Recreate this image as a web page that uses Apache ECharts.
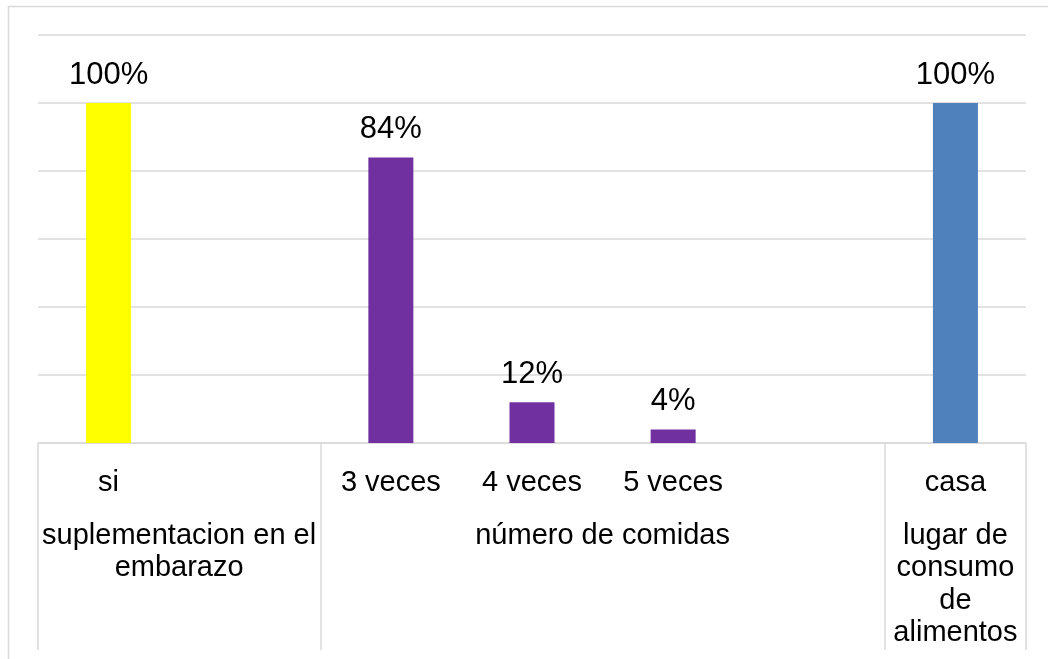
<!DOCTYPE html>
<html>
<head>
<meta charset="utf-8">
<script src="https://cdn.jsdelivr.net/npm/echarts@6/dist/echarts.min.js"></script>
<style>
  html, body { margin: 0; padding: 0; background: #fff; }
  #chart { width: 1048px; height: 659px; }
</style>
</head>
<body>
<div id="chart"></div>
<script>
// Inner categories (blank slots separate the groups)
const categories = ['si', '', '3 veces', '4 veces', '5 veces', '', 'casa'];
// Percent values per category
const values = [100, null, 84, 12, 4, null, 100];
// Outer group names and how many categories each spans
const groupNames = ['suplementacion en el\nembarazo', 'número de comidas', 'lugar de\nconsumo\nde\nalimentos'];
const groupSpans = [2, 4, 1];
// Y axis scale (percent)
const yMax = 120;
const yStep = 20;

const groupColors = ['#FFFF00', '#7030A0', '#4F81BD'];
const FONT = '"Liberation Sans", Arial, sans-serif';

// Group boundaries and centres, in category units
const bounds = [0];
groupSpans.forEach(s => bounds.push(bounds[bounds.length - 1] + s));
const centres = groupSpans.map((s, i) => bounds[i] + s / 2);

function groupOf(idx) {
  for (let g = 0; g < groupSpans.length; g++) {
    if (idx >= bounds[g] && idx < bounds[g + 1]) return g;
  }
  return 0;
}

const barData = values.map((v, i) => ({
  value: v,
  itemStyle: { color: groupColors[groupOf(i)] }
}));

const chart = echarts.init(document.getElementById('chart'), null, { renderer: 'canvas' });
chart.setOption({
  animation: false,
  backgroundColor: '#fff',
  textStyle: { fontFamily: FONT },
  graphic: [{
    type: 'rect',
    shape: { x: 8.5, y: 6.5, width: 1200, height: 1000 },
    style: { fill: 'none', stroke: '#d9d9d9', lineWidth: 1.5 },
    silent: true
  }],
  grid: { left: 38, right: 22, top: 35, bottom: 216, containLabel: false },
  xAxis: [{
    type: 'category',
    data: categories,
    position: 'bottom',
    axisLine: { show: true, lineStyle: { color: '#d9d9d9', width: 1.5 } },
    axisTick: { show: false },
    axisLabel: {
      interval: 0, margin: 24, color: '#000',
      fontFamily: FONT, fontSize: 29, lineHeight: 32
    },
    splitLine: { show: false }
  }, {
    type: 'value',
    position: 'bottom',
    min: 0,
    max: categories.length,
    axisLine: { show: false },
    axisTick: {
      show: true, customValues: bounds, length: 207, inside: false,
      lineStyle: { color: '#d9d9d9', width: 1.5 }
    },
    axisLabel: {
      customValues: centres,
      formatter: v => {
        const i = centres.indexOf(v);
        return i >= 0 ? groupNames[i] : '';
      },
      margin: 77, color: '#000', align: 'center', verticalAlign: 'top',
      fontFamily: FONT, fontSize: 29, lineHeight: 32.3
    },
    splitLine: { show: false }
  }],
  yAxis: {
    type: 'value',
    min: 0, max: yMax, interval: yStep,
    axisLine: { show: false },
    axisTick: { show: false },
    axisLabel: { show: false },
    splitLine: { lineStyle: { color: '#d9d9d9', width: 1.5 } }
  },
  series: [{
    type: 'bar',
    xAxisIndex: 0,
    data: barData,
    barWidth: 45,
    label: {
      show: true, position: 'top', distance: 12,
      formatter: p => p.value + '%',
      color: '#000', fontFamily: FONT, fontSize: 31, lineHeight: 31
    }
  }]
});
</script>
</body>
</html>
